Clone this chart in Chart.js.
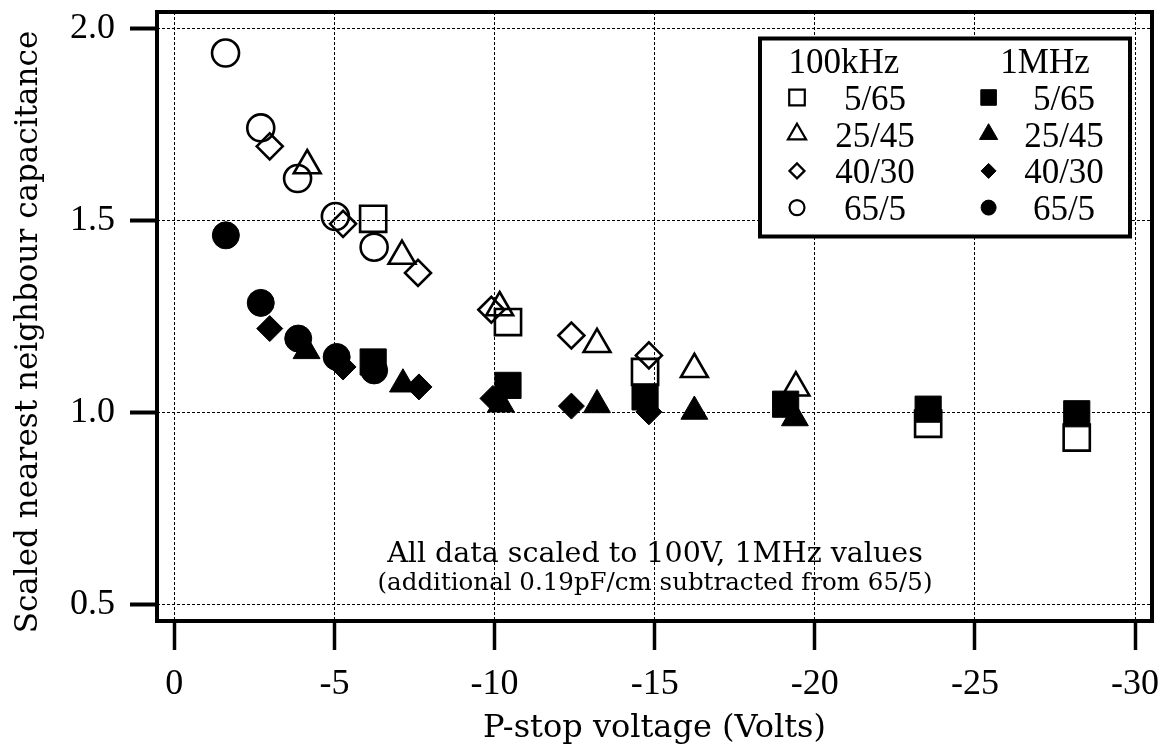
<!DOCTYPE html>
<html>
<head>
<meta charset="utf-8">
<script src="https://cdn.jsdelivr.net/npm/chart.js@4.4.1/dist/chart.umd.min.js"></script>
<style>
  html, body { margin: 0; background: #fff; }
  #wrap { width: 1164px; height: 756px; position: relative; }
</style>
</head>
<body>
<div id="wrap"><canvas id="chart"></canvas></div>
<script>
/* Scaled nearest-neighbour capacitance vs P-stop voltage — scatter, Chart.js v4 */
(function () {
  "use strict";

  const X_TICKS = [0, -5, -10, -15, -20, -25, -30];
  const Y_TICKS = [0.5, 1.0, 1.5, 2.0];
  const X_TITLE = "P-stop voltage (Volts)";
  const Y_TITLE = "Scaled nearest neighbour capacitance";
  const FREQ_LABELS = ["100kHz", "1MHz"];
  const SERIES_LABELS = ["5/65", "25/45", "40/30", "65/5"];
  const NOTE_LINES = ["All data scaled to 100V, 1MHz values", "(additional 0.19pF/cm subtracted from 65/5)"];

  // 100kHz (open markers)
  const sq100X = [-6.21, -10.42, -14.7, -23.54, -28.18];
  const sq100Y = [1.504, 1.235, 1.105, 0.970, 0.934];
  const tri100X = [-4.15, -7.11, -10.16, -13.2, -16.24, -19.41];
  const tri100Y = [1.643, 1.407, 1.273, 1.177, 1.112, 1.064];
  const dia100X = [-2.98, -5.27, -7.61, -9.9, -12.4, -14.82];
  const dia100Y = [1.693, 1.491, 1.363, 1.267, 1.200, 1.148];
  const cir100X = [-1.6, -2.7, -3.85, -5.03, -6.24];
  const cir100Y = [1.936, 1.741, 1.609, 1.510, 1.430];

  // 1MHz (filled markers)
  const sq1MX = [-6.21, -10.42, -14.7, -19.09, -23.54, -28.18];
  const sq1MY = [1.131, 1.070, 1.040, 1.021, 1.008, 0.996];
  const tri1MX = [-4.13, -7.14, -10.2, -13.2, -16.24, -19.38];
  const tri1MY = [1.160, 1.073, 1.021, 1.019, 1.002, 0.985];
  const dia1MX = [-2.98, -5.27, -7.64, -9.95, -12.4, -14.82];
  const dia1MY = [1.218, 1.118, 1.066, 1.036, 1.016, 1.001];
  const cir1MX = [-1.61, -2.7, -3.87, -5.07, -6.24];
  const cir1MY = [1.461, 1.285, 1.192, 1.144, 1.109];

  const STYLES = ["rect", "triangle", "rectRot", "circle"];
  const R_PLOT = { rect: 18.5, triangle: 15.5, rectRot: 13, circle: 13.5 };
  const R_LEG = { rect: 11, triangle: 10.5, rectRot: 7.5, circle: 7.5 };
  const NUM_FONT = "Liberation Serif";
  const TXT_FONT = "DejaVu Serif";

  const pts = (xs, ys) => xs.map((x, i) => ({ x, y: ys[i] }));

  function ds(label, style, xs, ys, filled) {
    return {
      label,
      data: pts(xs, ys),
      showLine: false,
      pointStyle: style,
      pointRadius: R_PLOT[style],
      pointBorderWidth: filled ? 1 : 2.6,
      pointBorderColor: "#000",
      pointBackgroundColor: filled ? "#000" : "rgba(0,0,0,0)",
    };
  }

  // first dataset is painted last, so the filled 1MHz set goes first (on top)
  const datasets = [
    ds("1MHz 5/65", "rect", sq1MX, sq1MY, true),
    ds("1MHz 25/45", "triangle", tri1MX, tri1MY, true),
    ds("1MHz 40/30", "rectRot", dia1MX, dia1MY, true),
    ds("1MHz 65/5", "circle", cir1MX, cir1MY, true),
    ds("100kHz 5/65", "rect", sq100X, sq100Y, false),
    ds("100kHz 25/45", "triangle", tri100X, tri100Y, false),
    ds("100kHz 40/30", "rectRot", dia100X, dia100Y, false),
    ds("100kHz 65/5", "circle", cir100X, cir100Y, false),
  ];

  const LEG = { x: 760, y: 38.5, w: 370, h: 198, mark: [797, 988.6], lab: [875, 1064], head: [844, 1045], base: 73.3, step: 36.7 };

  const overlay = {
    id: "overlay",
    afterDraw(chart) {
      const { ctx, chartArea: a } = chart;
      ctx.save();
      ctx.strokeStyle = "#000";
      ctx.lineWidth = 4;
      ctx.strokeRect(a.left, a.top, a.right - a.left, a.bottom - a.top);

      // note inside the plot
      ctx.fillStyle = "#000";
      ctx.textAlign = "center";
      ctx.textBaseline = "alphabetic";
      ctx.font = `28.5px "${TXT_FONT}"`;
      ctx.fillText(NOTE_LINES[0], 655, 562);
      ctx.font = `24.5px "${TXT_FONT}"`;
      ctx.fillText(NOTE_LINES[1], 655, 590);

      // y title
      ctx.save();
      ctx.translate(29, 332);
      ctx.rotate(-Math.PI / 2);
      ctx.textBaseline = "middle";
      ctx.font = `31px "${TXT_FONT}"`;
      ctx.fillText(Y_TITLE, 0, 0);
      ctx.restore();

      // legend box
      ctx.fillStyle = "#fff";
      ctx.fillRect(LEG.x, LEG.y, LEG.w, LEG.h);
      ctx.lineWidth = 4;
      ctx.strokeRect(LEG.x, LEG.y, LEG.w, LEG.h);
      ctx.fillStyle = "#000";
      ctx.font = `35px "${NUM_FONT}"`;
      ctx.textAlign = "center";
      ctx.fillText(FREQ_LABELS[0], LEG.head[0], LEG.base);
      ctx.fillText(FREQ_LABELS[1], LEG.head[1], LEG.base);
      SERIES_LABELS.forEach((lab, i) => {
        const b = LEG.base + LEG.step * (i + 1);
        const st = STYLES[i];
        [0, 1].forEach((c) => {
          ctx.fillStyle = c ? "#000" : "rgba(0,0,0,0)";
          ctx.strokeStyle = "#000";
          ctx.lineWidth = c ? 1 : 2.2;
          Chart.helpers.drawPoint(ctx, { pointStyle: st, radius: R_LEG[st], borderWidth: ctx.lineWidth, rotation: 0 }, LEG.mark[c], b - 12.5);
          ctx.fillStyle = "#000";
          ctx.fillText(lab, LEG.lab[c], b);
        });
      });
      ctx.restore();
    },
  };

  const grid = (tl, tw) => ({ color: "#000", lineWidth: 1, tickLength: tl, tickWidth: tw, tickColor: "#000" });
  // pin the plot box: no extra room for overhanging tick labels
  const noPad = (s) => { s.paddingLeft = 0; s.paddingRight = 0; s.paddingTop = 0; s.paddingBottom = 0; };

  new Chart(document.getElementById("chart"), {
    type: "scatter",
    data: { datasets },
    options: {
      responsive: true,
      maintainAspectRatio: false,
      animation: false,
      events: [],
      layout: { autoPadding: false, padding: { top: 12, right: 12, left: 0, bottom: 0 } },
      plugins: { legend: { display: false }, tooltip: { enabled: false } },
      scales: {
        x: {
          type: "linear",
          reverse: true,
          min: -30.53,
          max: 0.54,
          afterBuildTicks: (s) => { s.ticks = X_TICKS.map((v) => ({ value: v })); },
          afterFit: (s) => { s.height = 135; noPad(s); },
          grid: grid(29, 3.5),
          border: { display: false, dash: [3, 2] },
          ticks: {
            color: "#000", padding: 13, maxRotation: 0, autoSkip: false,
            font: { family: NUM_FONT, size: 36 },
            callback: (v) => String(v),
          },
          title: {
            display: true, text: X_TITLE, color: "#000",
            font: { family: TXT_FONT, size: 32 },
            padding: { top: 0, bottom: 8 },
          },
        },
        y: {
          type: "linear",
          min: 0.456,
          max: 2.043,
          afterBuildTicks: (s) => { s.ticks = Y_TICKS.map((v) => ({ value: v })); },
          afterFit: (s) => { s.width = 157; noPad(s); },
          grid: grid(27, 4),
          border: { display: false, dash: [3, 2] },
          ticks: {
            color: "#000", padding: 15,
            font: { family: NUM_FONT, size: 36 },
            callback: (v) => v.toFixed(1),
          },
        },
      },
    },
    plugins: [overlay],
  });
})();
</script>
</body>
</html>
